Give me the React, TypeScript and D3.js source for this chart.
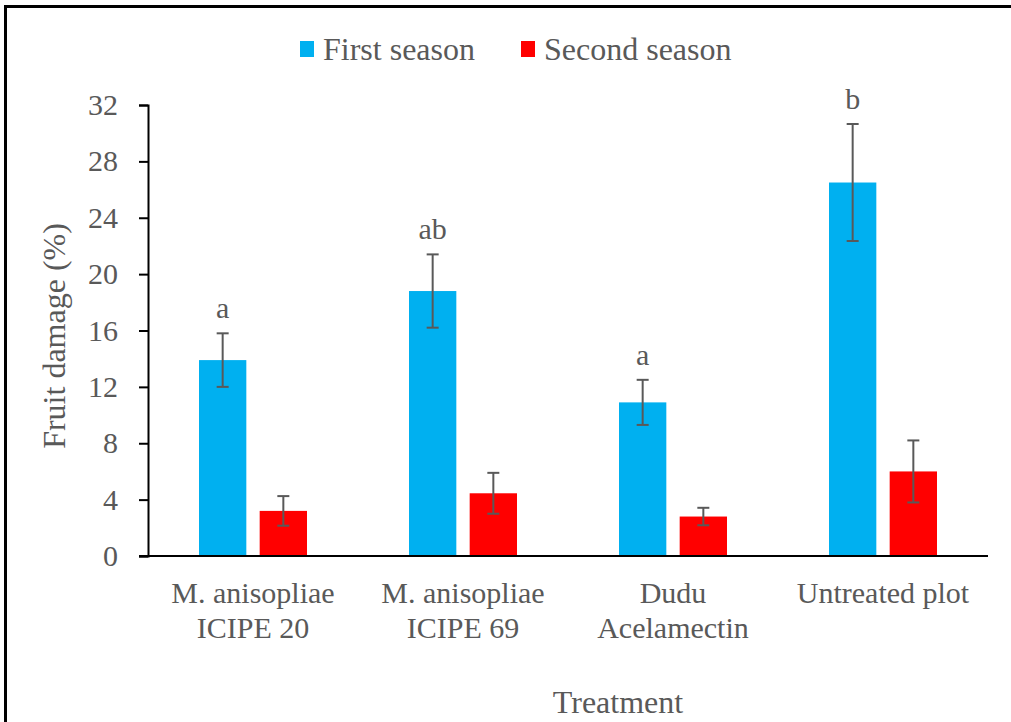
import * as d3 from "d3";
import { useRef, useEffect } from "react";

const treatments = [
  ["M. anisopliae", "ICIPE 20"],
  ["M. anisopliae", "ICIPE 69"],
  ["Dudu", "Acelamectin"],
  ["Untreated plot"],
];
const seasons = ["First season", "Second season"];
const firstSeason = [13.9, 18.8, 10.9, 26.5];
const firstErr = [1.9, 2.6, 1.6, 4.15];
const secondSeason = [3.2, 4.45, 2.8, 6.0];
const secondErr = [1.05, 1.45, 0.62, 2.2];
const letters = ["a", "ab", "a", "b"];
const yTicks = [0, 4, 8, 12, 16, 20, 24, 28, 32];

const colors = ["#00B0F0", "#FF0000"];
const textColor = "#595959";
const font = "'Liberation Serif'";

export default function App({
  width = 1011,
  height = 722,
  marginTop = 105,
  marginRight = 23,
  marginBottom = 166,
  marginLeft = 148,
}) {
  const gy = useRef<SVGGElement>(null);

  const x = d3.scaleBand<number>()
    .domain(d3.range(treatments.length))
    .range([marginLeft, width - marginRight]);

  const inner = d3.scaleBand<number>()
    .domain([0, 1])
    .range([51, x.bandwidth() - 51])
    .paddingInner(0.22);

  const y = d3.scaleLinear()
    .domain([0, 32])
    .range([height - marginBottom, marginTop]);

  useEffect(() => {
    const g = d3.select(gy.current);
    g.call(d3.axisLeft(y).tickValues(yTicks).tickSize(9).tickPadding(21) as any);
    g.attr("font-family", font);
    g.select(".domain").attr("stroke", "#000").attr("stroke-width", 2);
    g.selectAll(".tick line").attr("stroke", "#000").attr("stroke-width", 2);
    g.selectAll("text")
      .attr("fill", textColor)
      .attr("font-family", font)
      .attr("font-size", 30);
  }, [y]);

  const series = [
    { values: firstSeason, err: firstErr },
    { values: secondSeason, err: secondErr },
  ];

  const txt = { fill: textColor, fontSize: 30, fontFamily: font };
  const big = { ...txt, fontSize: 32 };

  return (
    <svg width={width} height={height} style={{ position: "absolute", left: 0, top: 0, background: "#fff" }}>
      <rect x={5.5} y={6.5} width={width + 10} height={height + 10} fill="#fff" stroke="#000" strokeWidth={3} />

      {/* legend */}
      <rect x={300} y={41} width={14} height={16} fill={colors[0]} />
      <text x={323} y={60} {...big}>{seasons[0]}</text>
      <rect x={521} y={41} width={14} height={16} fill={colors[1]} />
      <text x={544} y={60} {...big}>{seasons[1]}</text>

      {series.map((s, si) => (
        <g key={si}>
          {s.values.map((v, i) => {
            const bx = x(i)! + inner(si)!;
            const cx = bx + inner.bandwidth() / 2;
            const top = y(v + s.err[i]);
            const bot = y(v - s.err[i]);
            return (
              <g key={i}>
                <rect x={bx} y={y(v)} width={inner.bandwidth()} height={y(0) - y(v)} fill={colors[si]} />
                <g stroke={textColor} strokeWidth={2}>
                  <line x1={cx} x2={cx} y1={top} y2={bot} />
                  <line x1={cx - 6} x2={cx + 6} y1={top} y2={top} />
                  <line x1={cx - 6} x2={cx + 6} y1={bot} y2={bot} />
                </g>
                {si === 0 && (
                  <text x={cx} y={top - 15} textAnchor="middle" {...txt}>
                    {letters[i]}
                  </text>
                )}
              </g>
            );
          })}
        </g>
      ))}

      {/* x axis baseline */}
      <line x1={marginLeft - 9} x2={width - marginRight} y1={y(0)} y2={y(0)} stroke="#000" strokeWidth={2} />
      <g ref={gy} transform={`translate(${marginLeft},0)`} />

      {/* category labels */}
      {treatments.map((lines, i) => (
        <text key={i} x={x(i)! + x.bandwidth() / 2} y={603} textAnchor="middle" {...txt}>
          {lines.map((l, j) => (
            <tspan key={j} x={x(i)! + x.bandwidth() / 2} dy={j === 0 ? 0 : 35}>{l}</tspan>
          ))}
        </text>
      ))}

      <text x={618} y={713} textAnchor="middle" {...big}>Treatment</text>
      <text transform={`translate(65,336) rotate(-90)`} textAnchor="middle" {...big}>
        Fruit damage (%)
      </text>
    </svg>
  );
}
